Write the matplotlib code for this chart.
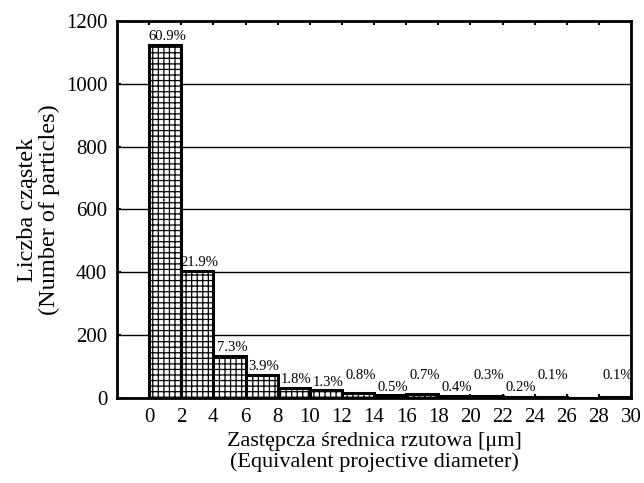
import matplotlib
matplotlib.use("Agg")
import matplotlib.pyplot as plt
import numpy as np

# bins (um) and counts
bin_left = [0, 2, 4, 6, 8, 10, 12, 14, 16, 18, 20, 22, 24, 26, 28]
counts = [1124, 404, 135, 72, 33, 24, 15, 9, 13, 7, 6, 4, 2, 0, 2]
pct_labels = ["60.9%", "21.9%", "7.3%", "3.9%", "1.8%", "1.3%", "0.8%", "0.5%",
              "0.7%", "0.4%", "0.3%", "0.2%", "0.1%", "", "0.1%"]

plt.rcParams["font.family"] = ["Liberation Serif", "DejaVu Serif"]
plt.rcParams["hatch.linewidth"] = 0.9

fig = plt.figure(figsize=(6.44, 4.83), dpi=100)
ax = fig.add_axes([117 / 644, 1 - 398 / 483, (631 - 117) / 644, (398 - 21) / 483])

ax.set_axisbelow(True)
ax.yaxis.grid(True, color="black", linewidth=1.0)
ax.bar(bin_left, counts, width=2, align="edge", facecolor="white",
       edgecolor="black", linewidth=2.2, hatch="+++", zorder=3)

# percentage labels; the small ones alternate high / low
for i, (x, c, lab) in enumerate(zip(bin_left, counts, pct_labels)):
    if not lab:
        continue
    if i < 6:
        y = c + 6
    elif i % 2 == 0:
        y = 50
    else:
        y = 13
    ax.text(x + 1.15, y, lab, ha="center", va="bottom", fontsize=10.5, zorder=4)

ax.set_xlim(-2, 30)
ax.set_ylim(0, 1200)
ax.set_xticks(np.arange(0, 31, 2))
ax.set_yticks(np.arange(0, 1201, 200))
ax.tick_params(axis="both", direction="in", labelsize=15, length=3, width=1.5,
               top=True, pad=7)
ax.tick_params(axis="x", pad=7)
for s in ax.spines.values():
    s.set_linewidth(2.0)

ax.set_xlabel("Zastępcza średnica rzutowa [μm]\n(Equivalent projective diameter)",
              fontsize=16, linespacing=1.1, labelpad=4)
ax.set_ylabel("Liczba cząstek\n(Number of particles)", fontsize=17.5,
              linespacing=1.05, labelpad=4)

fig.savefig("out.png", dpi=100)
